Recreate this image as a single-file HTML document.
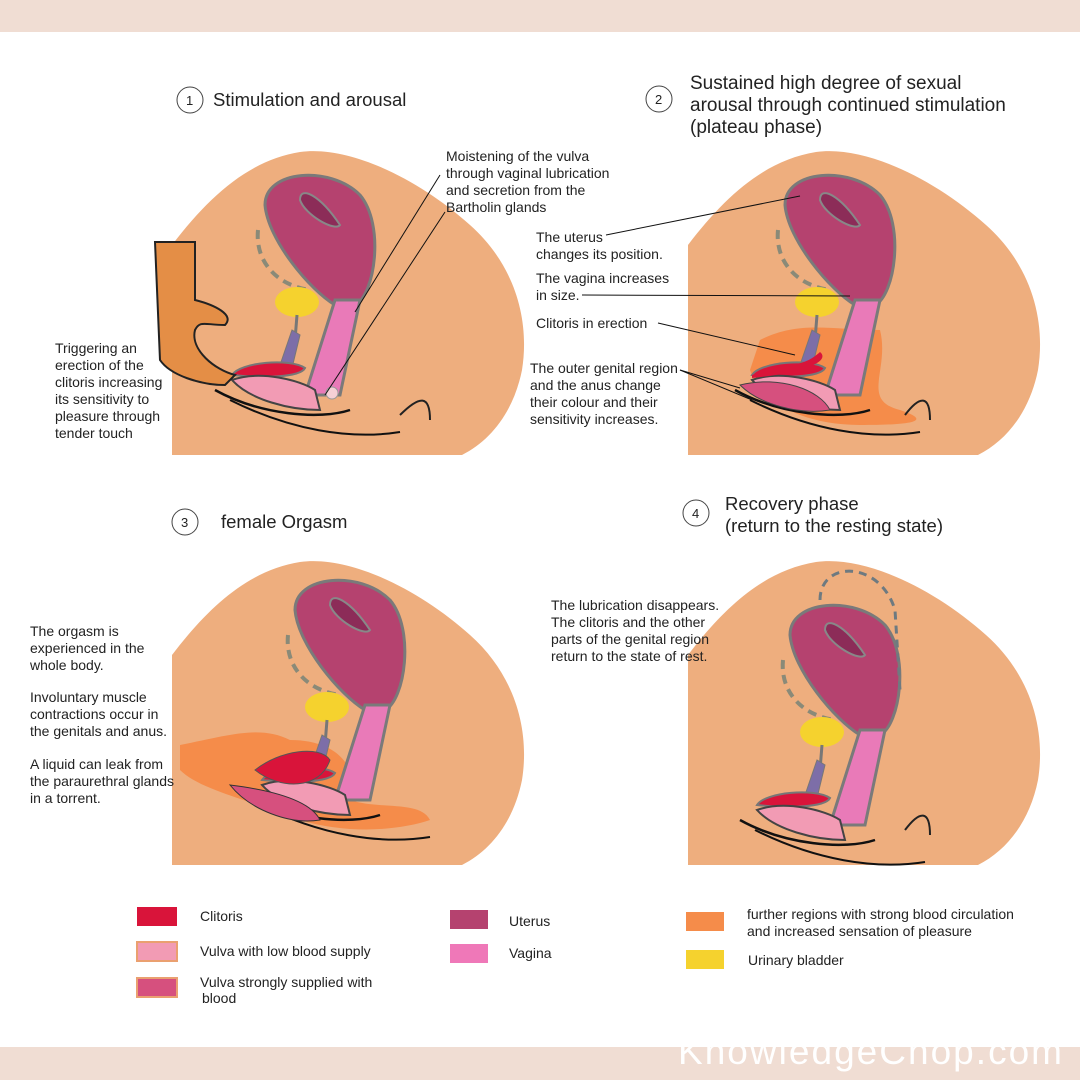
<!DOCTYPE html>
<html><head><meta charset="utf-8"><style>
body{margin:0;width:1080px;height:1080px;background:#fff;overflow:hidden;font-family:"Liberation Sans",sans-serif}
svg text{font-family:"Liberation Sans",sans-serif;fill:#222}
</style></head><body>
<svg width="1080" height="1080" viewBox="0 0 1080 1080" xmlns="http://www.w3.org/2000/svg">
<defs>
<path id="body" d="M172,455 L172,245 C210,195 250,160 300,152 C350,145 420,180 470,225 C515,265 530,320 522,370 C514,410 492,440 462,455 Z" fill="#eeae7e"/>
<g id="org">
 <path d="M258,230 C255,260 275,285 310,290" fill="none" stroke="#8a8a78" stroke-width="4" stroke-dasharray="9,6"/>
 <ellipse cx="297" cy="302" rx="22" ry="15" fill="#f5d22e"/>
 <path d="M297,315 L295,340" stroke="#777" stroke-width="3"/>
 <path d="M280,365 L292,330 L300,335 L292,368 Z" fill="#7d6ea8" stroke="#777"/>
 <path d="M265,205 C265,170 330,165 360,195 C385,225 375,295 355,305 L335,305 C310,290 268,240 265,205 Z" fill="#b5426f" stroke="#7a7a7a" stroke-width="3"/>
 <path d="M300,200 C300,185 320,195 340,225 C335,232 305,215 300,200Z" fill="#8c2c58" stroke="#888" stroke-width="2"/>
 <path d="M335,300 L360,300 L340,395 L305,395 Z" fill="#e97ab8" stroke="#7a7a7a" stroke-width="3"/>
 <path d="M232,375 C240,362 290,358 305,368 C300,378 260,378 232,375 Z" fill="#d9143a" stroke="#777" stroke-width="2"/>
 <path d="M232,380 C260,370 300,380 315,390 L320,410 C290,410 250,400 232,380 Z" fill="#f29bb4" stroke="#444" stroke-width="2"/>
 <path d="M215,390 C260,415 320,420 350,410" fill="none" stroke="#111" stroke-width="2.5"/>
 <path d="M230,400 C290,430 350,440 400,432" fill="none" stroke="#111" stroke-width="2"/>
</g>
</defs>
<rect x="0" y="0" width="1080" height="32" fill="#f0ddd3"/>
<rect x="0" y="1047" width="1080" height="33" fill="#f0ddd3"/>
<text x="678" y="1064" font-size="37" style="fill:#fff" textLength="384">KnowledgeChop.com</text>

<use href="#body"/>
<path d="M400,415 C420,395 430,395 430,420" fill="none" stroke="#222" stroke-width="2"/>
<use href="#org"/>
<path d="M155,242 L195,242 L195,300 C215,305 235,315 225,325 C205,325 200,320 195,330 C190,350 215,370 235,375 L225,385 C200,385 170,375 160,360 Z" fill="#e48e46" stroke="#222" stroke-width="2"/>
<circle cx="332" cy="393" r="6" fill="#f5d0d6" stroke="#999"/>
<line x1="440" y1="175" x2="355" y2="312" stroke="#111"/>
<line x1="445" y1="212" x2="325" y2="395" stroke="#111"/>
<circle cx="190" cy="100" r="13" fill="none" stroke="#444"/><text x="186" y="105" font-size="13">1</text>
<text x="213" y="106" font-size="18.5">Stimulation and arousal</text>
<text font-size="14"><tspan x="446" y="161">Moistening of the vulva</tspan><tspan x="446" y="178">through vaginal lubrication</tspan><tspan x="446" y="195">and secretion from the</tspan><tspan x="446" y="212">Bartholin glands</tspan></text>
<text font-size="14"><tspan x="55" y="353">Triggering an</tspan><tspan x="55" y="370">erection of the</tspan><tspan x="55" y="387">clitoris increasing</tspan><tspan x="55" y="404">its sensitivity to</tspan><tspan x="55" y="421">pleasure through</tspan><tspan x="55" y="438">tender touch</tspan></text>

<use href="#body" transform="translate(516,0)"/>
<path d="M760,340 C800,320 830,330 880,330 C890,370 860,400 900,410 C930,420 920,425 860,425 C800,425 760,400 750,370 Z" fill="#f58c4a"/>
<path d="M905,415 C920,395 930,395 930,420" fill="none" stroke="#222" stroke-width="2"/>
<use href="#org" transform="translate(520,0)"/>
<path d="M752,375 C790,360 800,370 820,352 C830,360 810,372 752,378Z" fill="#d9143a"/>
<path d="M740,385 C780,375 820,390 830,410 C800,415 760,405 740,385Z" fill="#d6507e" stroke="#444"/>
<line x1="606" y1="235" x2="800" y2="196" stroke="#111"/>
<line x1="582" y1="295" x2="850" y2="296" stroke="#111"/>
<line x1="658" y1="323" x2="795" y2="355" stroke="#111"/>
<line x1="680" y1="370" x2="740" y2="388" stroke="#111"/>
<line x1="680" y1="370" x2="752" y2="400" stroke="#111"/>
<circle cx="659" cy="99" r="13" fill="none" stroke="#444"/><text x="655" y="104" font-size="13">2</text>
<text font-size="19"><tspan x="690" y="89">Sustained high degree of sexual</tspan><tspan x="690" y="111">arousal through continued stimulation</tspan><tspan x="690" y="133">(plateau phase)</tspan></text>
<text font-size="14"><tspan x="536" y="242">The uterus</tspan><tspan x="536" y="259">changes its position.</tspan><tspan x="536" y="283">The vagina increases</tspan><tspan x="536" y="300">in size.</tspan><tspan x="536" y="328">Clitoris in erection</tspan><tspan x="530" y="373">The outer genital region</tspan><tspan x="530" y="390">and the anus change</tspan><tspan x="530" y="407">their colour and their</tspan><tspan x="530" y="424">sensitivity increases.</tspan></text>

<use href="#body" transform="translate(0,410)"/>
<path d="M180,745 C230,735 260,725 290,740 C340,740 360,770 350,800 C380,810 420,800 430,820 C400,830 350,835 300,820 C250,800 200,790 180,770 Z" fill="#f58c4a"/>
<use href="#org" transform="translate(30,405)"/>
<path d="M255,770 C280,750 320,745 330,760 C320,790 280,790 255,770Z" fill="#d9143a" stroke="#555"/>
<path d="M230,785 C270,790 310,800 320,820 C290,825 250,810 230,785Z" fill="#d6507e" stroke="#333"/>
<circle cx="185" cy="522" r="13" fill="none" stroke="#444"/><text x="181" y="527" font-size="13">3</text>
<text x="221" y="528" font-size="18.5">female Orgasm</text>
<text font-size="14"><tspan x="30" y="636">The orgasm is</tspan><tspan x="30" y="653">experienced in the</tspan><tspan x="30" y="670">whole body.</tspan><tspan x="30" y="702">Involuntary muscle</tspan><tspan x="30" y="719">contractions occur in</tspan><tspan x="30" y="736">the genitals and anus.</tspan><tspan x="30" y="769">A liquid can leak from</tspan><tspan x="30" y="786">the paraurethral glands</tspan><tspan x="30" y="803">in a torrent.</tspan></text>

<use href="#body" transform="translate(516,410)"/>
<path d="M905,830 C920,810 930,810 930,835" fill="none" stroke="#222" stroke-width="2"/>
<use href="#org" transform="translate(525,430)"/>
<path d="M820,600 C820,560 880,560 895,610 L900,690" fill="none" stroke="#6e7a80" stroke-width="3" stroke-dasharray="8,6"/>
<circle cx="696" cy="513" r="13" fill="none" stroke="#444"/><text x="692" y="518" font-size="13">4</text>
<text font-size="18.5"><tspan x="725" y="510">Recovery phase</tspan><tspan x="725" y="532">(return to the resting state)</tspan></text>
<text font-size="14"><tspan x="551" y="610">The lubrication disappears.</tspan><tspan x="551" y="627">The clitoris and the other</tspan><tspan x="551" y="644">parts of the genital region</tspan><tspan x="551" y="661">return to the state of rest.</tspan></text>

<rect x="137" y="907" width="40" height="19" fill="#d9143a"/>
<rect x="137" y="942" width="40" height="19" fill="#f29bb4" stroke="#eaa070" stroke-width="2"/>
<rect x="137" y="978" width="40" height="19" fill="#d6507e" stroke="#eaa070" stroke-width="2"/>
<rect x="450" y="910" width="38" height="19" fill="#b5426f"/>
<rect x="450" y="944" width="38" height="19" fill="#ef78b8"/>
<rect x="686" y="912" width="38" height="19" fill="#f58c4a"/>
<rect x="686" y="950" width="38" height="19" fill="#f5d22e"/>
<text font-size="14"><tspan x="200" y="921">Clitoris</tspan><tspan x="200" y="956">Vulva with low blood supply</tspan><tspan x="200" y="987">Vulva strongly supplied with</tspan><tspan x="202" y="1003">blood</tspan><tspan x="509" y="926">Uterus</tspan><tspan x="509" y="958">Vagina</tspan><tspan x="747" y="919">further regions with strong blood circulation</tspan><tspan x="747" y="936">and increased sensation of pleasure</tspan><tspan x="748" y="965">Urinary bladder</tspan></text>
</svg>
</body></html>
